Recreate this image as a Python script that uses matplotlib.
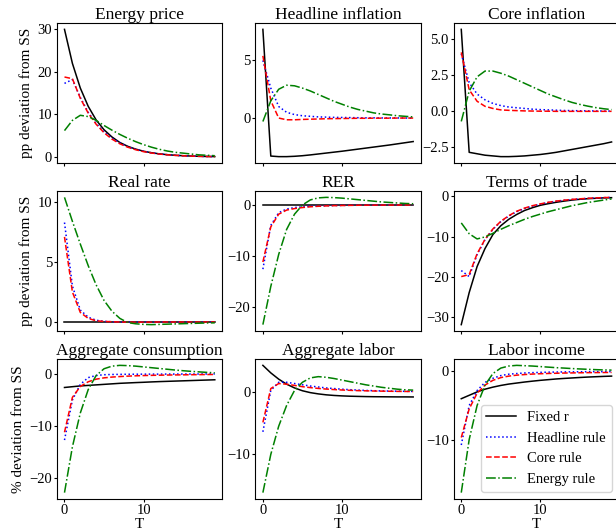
import matplotlib
matplotlib.use('Agg')
import matplotlib.pyplot as plt
import numpy as np

plt.rcParams['font.family'] = ['Liberation Serif', 'DejaVu Serif']

T = np.arange(20)

titles = ['Energy price', 'Headline inflation', 'Core inflation',
          'Real rate', 'RER', 'Terms of trade',
          'Aggregate consumption', 'Aggregate labor', 'Labor income']
row_labels = ['pp deviation from SS', 'pp deviation from SS', '% deviation from SS']
series_names = ['Fixed r', 'Headline rule', 'Core rule', 'Energy rule']

# Energy price
energy_fixed = [30.0, 22.0, 16.2, 11.9, 8.7, 6.4, 4.7, 3.4, 2.5, 1.85, 1.35, 1.0, 0.73, 0.54, 0.4, 0.3, 0.22, 0.16, 0.12, 0.09]
energy_head = [17.3, 18.2, 14.0, 10.5, 7.9, 5.9, 4.4, 3.3, 2.4, 1.8, 1.3, 0.97, 0.72, 0.53, 0.39, 0.29, 0.21, 0.16, 0.12, 0.09]
energy_core = [18.8, 18.4, 13.8, 10.3, 7.7, 5.7, 4.2, 3.1, 2.3, 1.7, 1.25, 0.93, 0.69, 0.51, 0.38, 0.28, 0.21, 0.15, 0.11, 0.08]
energy_energy = [6.2, 8.6, 9.8, 9.5, 8.6, 7.4, 6.3, 5.3, 4.4, 3.6, 2.9, 2.3, 1.8, 1.4, 1.1, 0.9, 0.7, 0.5, 0.4, 0.3]

# Headline inflation
head_fixed = [7.7, -3.3, -3.35, -3.35, -3.32, -3.27, -3.2, -3.12, -3.04, -2.96, -2.88, -2.79, -2.7, -2.61, -2.52, -2.43, -2.34, -2.24, -2.14, -2.04]
head_head = [5.0, 2.6, 1.0, 0.5, 0.3, 0.2, 0.15, 0.1, 0.08, 0.06, 0.05, 0.04, 0.03, 0.02, 0.02, 0.01, 0.01, 0.01, 0.0, 0.0]
head_core = [5.4, 1.5, 0.0, -0.15, -0.15, -0.12, -0.1, -0.08, -0.06, -0.05, -0.04, -0.03, -0.02, -0.02, -0.01, -0.01, -0.01, 0.0, 0.0, 0.0]
head_energy = [-0.3, 1.5, 2.5, 2.85, 2.8, 2.6, 2.35, 2.05, 1.75, 1.45, 1.2, 0.95, 0.75, 0.6, 0.45, 0.35, 0.28, 0.2, 0.15, 0.1]

# Core inflation
core_fixed = [5.7, -2.85, -2.95, -3.05, -3.1, -3.15, -3.15, -3.13, -3.1, -3.05, -3.0, -2.93, -2.85, -2.75, -2.65, -2.55, -2.45, -2.35, -2.25, -2.13]
core_head = [4.0, 2.0, 1.2, 0.8, 0.55, 0.4, 0.3, 0.25, 0.2, 0.15, 0.12, 0.1, 0.08, 0.06, 0.05, 0.04, 0.03, 0.03, 0.02, 0.02]
core_core = [4.1, 1.5, 0.7, 0.35, 0.2, 0.1, 0.07, 0.05, 0.03, 0.02, 0.01, 0.01, 0.0, 0.0, 0.0, 0.0, 0.0, 0.0, 0.0, 0.0]
core_energy = [-0.7, 1.4, 2.4, 2.8, 2.8, 2.65, 2.45, 2.2, 1.95, 1.7, 1.45, 1.2, 1.0, 0.8, 0.62, 0.48, 0.36, 0.26, 0.18, 0.12]

# Real rate
rate_fixed = [0.0] * 20
rate_head = [8.3, 3.0, 1.0, 0.4, 0.15, 0.05, 0.02, 0.01, 0.0, 0.0, 0.0, 0.0, 0.0, 0.0, 0.0, 0.0, 0.0, 0.0, 0.0, 0.0]
rate_core = [7.1, 2.5, 0.8, 0.3, 0.1, 0.05, 0.02, 0.0, -0.01, -0.01, -0.01, -0.01, 0.0, 0.0, 0.0, 0.0, 0.0, 0.0, 0.0, 0.0]
rate_energy = [10.4, 8.4, 6.5, 4.7, 3.1, 1.8, 0.9, 0.3, -0.05, -0.15, -0.2, -0.22, -0.2, -0.18, -0.16, -0.14, -0.12, -0.1, -0.08, -0.07]

# RER
rer_fixed = [0.0] * 20
rer_head = [-12.6, -4.0, -1.5, -0.8, -0.5, -0.35, -0.25, -0.18, -0.13, -0.1, -0.07, -0.05, -0.04, -0.03, -0.02, -0.02, -0.01, -0.01, -0.01, 0.0]
rer_core = [-11.2, -4.3, -1.8, -1.0, -0.7, -0.5, -0.35, -0.25, -0.18, -0.13, -0.1, -0.07, -0.05, -0.04, -0.03, -0.02, -0.02, -0.01, -0.01, 0.0]
rer_energy = [-23.5, -16.0, -9.7, -4.8, -1.8, 0.0, 1.0, 1.4, 1.5, 1.45, 1.35, 1.2, 1.05, 0.9, 0.75, 0.6, 0.5, 0.4, 0.3, 0.25]

# Terms of trade
tot_fixed = [-32.0, -24.0, -17.5, -13.0, -9.5, -7.3, -5.7, -4.5, -3.5, -2.8, -2.2, -1.8, -1.45, -1.15, -0.9, -0.7, -0.55, -0.45, -0.35, -0.3]
tot_head = [-18.5, -20.0, -14.5, -10.8, -8.2, -6.3, -4.9, -3.8, -3.0, -2.4, -1.9, -1.5, -1.2, -0.95, -0.75, -0.6, -0.47, -0.37, -0.29, -0.23]
tot_core = [-20.0, -19.5, -14.3, -10.7, -8.1, -6.2, -4.8, -3.7, -2.9, -2.3, -1.85, -1.45, -1.15, -0.92, -0.73, -0.58, -0.46, -0.36, -0.28, -0.22]
tot_energy = [-6.6, -9.3, -10.6, -10.1, -9.2, -8.2, -7.3, -6.5, -5.7, -5.0, -4.4, -3.8, -3.3, -2.8, -2.3, -1.9, -1.5, -1.2, -0.9, -0.6]

# Aggregate consumption
cons_fixed = [-2.6, -2.45, -2.3, -2.2, -2.1, -2.0, -1.9, -1.8, -1.73, -1.66, -1.6, -1.53, -1.47, -1.42, -1.37, -1.32, -1.27, -1.22, -1.17, -1.12]
cons_head = [-12.7, -5.0, -2.0, -0.7, -0.3, -0.15, -0.1, -0.08, -0.06, -0.05, -0.04, -0.03, -0.03, -0.02, -0.02, -0.01, -0.01, -0.01, 0.0, 0.0]
cons_core = [-11.2, -4.5, -2.4, -1.5, -1.0, -0.75, -0.6, -0.5, -0.42, -0.36, -0.31, -0.27, -0.24, -0.21, -0.19, -0.17, -0.15, -0.13, -0.11, -0.1]
cons_energy = [-22.8, -14.0, -7.5, -3.0, -0.3, 1.0, 1.5, 1.65, 1.6, 1.5, 1.35, 1.2, 1.05, 0.9, 0.75, 0.62, 0.5, 0.4, 0.3, 0.22]

# Aggregate labor
lab_fixed = [4.2, 3.0, 2.0, 1.2, 0.6, 0.15, -0.15, -0.35, -0.5, -0.6, -0.67, -0.72, -0.75, -0.78, -0.8, -0.81, -0.82, -0.83, -0.83, -0.84]
lab_head = [-6.4, 0.2, 1.5, 1.5, 1.3, 1.1, 0.9, 0.75, 0.6, 0.5, 0.4, 0.32, 0.26, 0.2, 0.16, 0.12, 0.1, 0.08, 0.06, 0.05]
lab_core = [-4.9, 0.5, 1.3, 1.2, 1.0, 0.8, 0.65, 0.52, 0.42, 0.34, 0.27, 0.22, 0.17, 0.14, 0.11, 0.09, 0.07, 0.05, 0.04, 0.03]
lab_energy = [-16.1, -10.0, -5.5, -2.2, 0.2, 1.5, 2.2, 2.4, 2.3, 2.1, 1.85, 1.6, 1.35, 1.1, 0.9, 0.7, 0.55, 0.4, 0.3, 0.25]

# Labor income
inc_fixed = [-4.0, -3.5, -3.0, -2.6, -2.3, -2.05, -1.85, -1.7, -1.55, -1.42, -1.3, -1.2, -1.1, -1.02, -0.95, -0.88, -0.82, -0.77, -0.72, -0.68]
inc_head = [-10.8, -5.0, -2.8, -1.6, -1.0, -0.6, -0.4, -0.3, -0.22, -0.17, -0.13, -0.1, -0.08, -0.06, -0.05, -0.04, -0.03, -0.02, -0.02, -0.01]
inc_core = [-9.7, -5.5, -3.2, -2.0, -1.3, -0.9, -0.68, -0.54, -0.45, -0.38, -0.33, -0.29, -0.26, -0.23, -0.21, -0.19, -0.17, -0.16, -0.15, -0.14]
inc_energy = [-17.8, -10.0, -5.0, -2.0, -0.3, 0.5, 0.8, 0.9, 0.85, 0.8, 0.72, 0.64, 0.56, 0.5, 0.43, 0.37, 0.32, 0.27, 0.23, 0.2]

panels = [
    (energy_fixed, energy_head, energy_core, energy_energy),
    (head_fixed, head_head, head_core, head_energy),
    (core_fixed, core_head, core_core, core_energy),
    (rate_fixed, rate_head, rate_core, rate_energy),
    (rer_fixed, rer_head, rer_core, rer_energy),
    (tot_fixed, tot_head, tot_core, tot_energy),
    (cons_fixed, cons_head, cons_core, cons_energy),
    (lab_fixed, lab_head, lab_core, lab_energy),
    (inc_fixed, inc_head, inc_core, inc_energy),
]

styles = [('k', '-'), ('b', ':'), ('r', '--'), ('g', '-.')]

fig, axes = plt.subplots(3, 3, figsize=(6.16, 5.30), dpi=100, sharex=True)
fig.subplots_adjust(left=0.0925, right=1.005, top=0.9566, bottom=0.0585,
                    wspace=0.2, hspace=0.2)

for i, ax in enumerate(axes.flat):
    for data, (c, ls), name in zip(panels[i], styles, series_names):
        ax.plot(T, data, color=c, linestyle=ls, linewidth=1.1, label=name)
    ax.set_title(titles[i], fontsize=12.5, pad=3)
    ax.tick_params(labelsize=10.5, length=2.5, pad=1)
    if i % 3 == 0:
        ax.set_ylabel(row_labels[i // 3], fontsize=11, labelpad=3)
    if i >= 6:
        ax.set_xlabel('T', fontsize=11, labelpad=0.5)

axes[2, 2].legend(loc='lower right', fontsize=10.5)

plt.savefig('out.png', dpi=100)
